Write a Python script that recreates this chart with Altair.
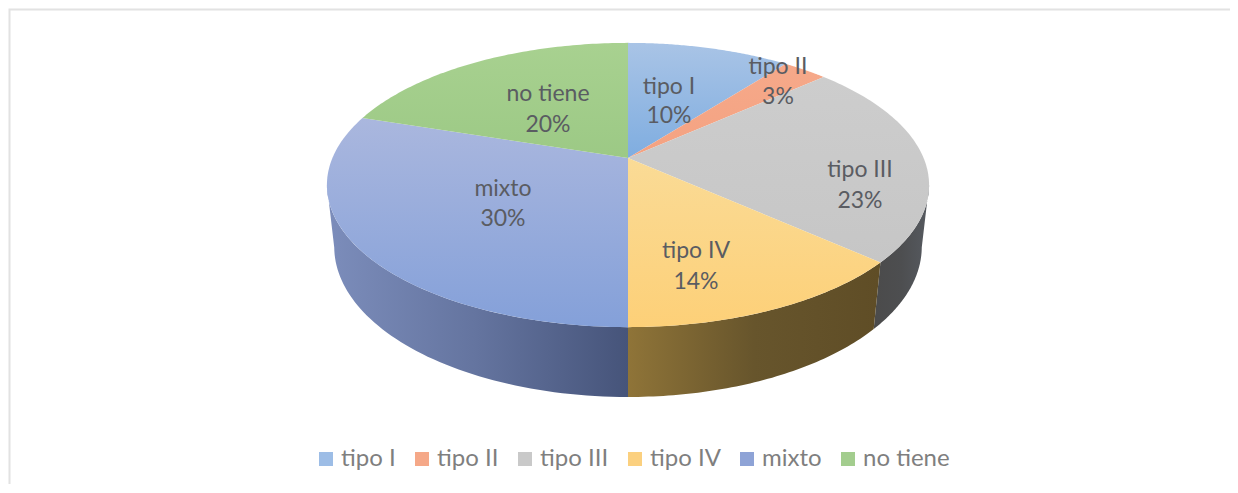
import numpy as np
import pandas as pd
import altair as alt

categories = ["tipo I", "tipo II", "tipo III", "tipo IV", "mixto", "no tiene"]
shares = [10.5, 2.9, 23.2, 13.4, 30.0, 20.0]
labels_pct = ["10%", "3%", "23%", "14%", "30%", "20%"]
legend_colors = ["#9dbde6", "#f5a888", "#c9c9c9", "#fbd07f", "#8ea3d6", "#a3cd8e"]

top_grad = [["#a9c4e6", "#7fade0"], ["#f6a98a", "#f4a281"], ["#cdcdcd", "#c6c6c6"],
            ["#fadb96", "#fdd078"], ["#aab7de", "#84a0d9"], ["#a8d190", "#9cc985"]]
side_grad = {2: ["#4b4b4b", "#4d4e50", "#565a60"],
             3: ["#8f7438", "#67552c", "#5f4d26"],
             4: ["#7c8dbb", "#64749f", "#46547a"]}

label_x = [669, 778, 860, 696, 503, 548]
label_y1 = [87, 67, 170, 251, 189, 94]
label_y2 = [116, 97, 201, 282, 219, 125]

# perspective of the pie: apex at (CX, CY) in picture pixels
CX, CY = 628, 158
K, A, B, M, D = 0.19, 137.0, 295.6, 0.024, 62.3
T_L, T_R = np.radians(101), np.radians(259)


def top(t):
    d = 1 + K * np.cos(t)
    return CX + B * np.sin(t) / d, CY - A * np.cos(t) / d


def bottom(t):
    d = 1 + K * np.cos(t) + M
    return CX + B * np.sin(t) / d, CY + (D - A * np.cos(t)) / d


edges = np.radians(np.concatenate([[0], np.cumsum(shares)]) * 3.6)

x_scale = alt.Scale(domain=[8, 1230], range=[0, 1222], nice=False, zero=False)
y_scale = alt.Scale(domain=[8, 484], range=[0, 476], nice=False, zero=False)
X = alt.X("x:Q", scale=x_scale, axis=None)
Y = alt.Y("y:Q", scale=y_scale, axis=None)


def polygon(xs, ys, colors, horizontal):
    df = pd.DataFrame({"x": xs, "y": ys, "i": range(len(xs))})
    offs = np.linspace(0, 1, len(colors))
    grad = alt.LinearGradient(
        gradient="linear",
        x1=0, y1=0,
        x2=1 if horizontal else 0,
        y2=0 if horizontal else 1,
        stops=[alt.GradientStop(color=c, offset=float(o)) for c, o in zip(colors, offs)],
    )
    return alt.Chart(df).mark_line(fill=grad, strokeWidth=0, interpolate="linear-closed").encode(
        x=X, y=Y, order="i:Q"
    )


# frame of the picture
frame = pd.DataFrame({"x": [9.5, 9.5, 1230], "y": [484, 9.5, 9.5], "i": [0, 1, 2]})
layers = [alt.Chart(frame).mark_line(color="#e2e2e2", strokeWidth=2).encode(x=X, y=Y, order="i:Q")]

# sides
for idx, colors in side_grad.items():
    a, b = max(edges[idx], T_L), min(edges[idx + 1], T_R)
    t = np.linspace(a, b, 60)
    xt, yt = top(t)
    xb, yb = bottom(t[::-1])
    layers.append(polygon(np.r_[xt, xb], np.r_[yt, yb], colors, True))
# top faces
for idx in range(6):
    t = np.linspace(edges[idx], edges[idx + 1], 80)
    xt, yt = top(t)
    layers.append(polygon(np.r_[CX, xt], np.r_[CY, yt], top_grad[idx], False))

# slice labels
lab = pd.DataFrame({"x": label_x, "y1": label_y1, "y2": label_y2, "c": categories, "p": labels_pct})
text_style = dict(font="Lato", fontSize=23, color="#5a5c62", align="center", baseline="middle")
layers.append(alt.Chart(lab).mark_text(**text_style).encode(x=X, y=alt.Y("y1:Q", scale=y_scale, axis=None), text="c:N"))
layers.append(alt.Chart(lab).mark_text(**text_style).encode(x=X, y=alt.Y("y2:Q", scale=y_scale, axis=None), text="p:N"))

# native legend, carried by invisible points
leg = pd.DataFrame({"c": categories, "x": label_x, "y": label_y1})
layers.append(
    alt.Chart(leg).mark_square(opacity=0, size=10).encode(
        x=X, y=Y,
        color=alt.Color(
            "c:N",
            scale=alt.Scale(domain=categories, range=legend_colors),
            legend=alt.Legend(
                orient="none", legendX=306, legendY=436, direction="horizontal", columns=6,
                title=None, symbolType="square", symbolSize=196, symbolOpacity=1, symbolStrokeWidth=0,
                labelFont="Lato", labelFontSize=24, labelColor="#7f7f7f", columnPadding=14,
                labelOffset=3, clipHeight=30,
            ),
        ),
    )
)

chart = alt.layer(*layers).properties(
    width=1222, height=476, padding=0, background="white",
    autosize=alt.AutoSizeParams(type="none"),
).configure_view(stroke=None)

chart.save("out.html", embed_options={"renderer": "svg", "actions": False})
